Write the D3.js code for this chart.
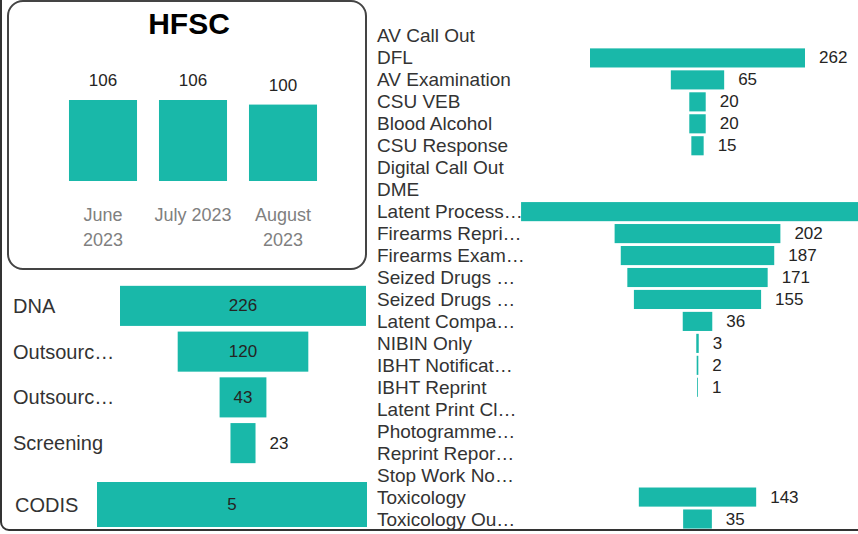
<!DOCTYPE html>
<html>
<head>
<meta charset="utf-8">
<script src="https://cdn.jsdelivr.net/npm/d3@7"></script>
<style>
  body { margin: 0; background: #fff; }
  svg { display: block; font-family: 'Liberation Sans', Arial, sans-serif; }
</style>
</head>
<body>
<svg id="chart" width="858" height="534"></svg>
<script>
const months = ['June 2023', 'July 2023', 'August 2023']
const monthLines = [['June', '2023'], ['July 2023'], ['August', '2023']]
const monthValues = [106, 106, 100]

const dnaLabels = ['DNA', 'Outsourc…', 'Outsourc…', 'Screening']
const dnaValues = [226, 120, 43, 23]

const codisLabels = ['CODIS']
const codisValues = [5]

const labLabels = [
  'AV Call Out', 'DFL', 'AV Examination', 'CSU VEB', 'Blood Alcohol', 'CSU Response',
  'Digital Call Out', 'DME', 'Latent Process…', 'Firearms Repri…', 'Firearms Exam…',
  'Seized Drugs …', 'Seized Drugs …', 'Latent Compa…', 'NIBIN Only', 'IBHT Notificat…',
  'IBHT Reprint', 'Latent Print Cl…', 'Photogramme…', 'Reprint Repor…', 'Stop Work No…',
  'Toxicology', 'Toxicology Ou…'
]
const labValues = [
  null, 262, 65, 20, 20, 15,
  null, null, 430, 202, 187,
  171, 155, 36, 3, 2,
  1, null, null, null, null,
  143, 35
]

const W = 858
const TEAL = '#19b8a9'
const LABEL = '#333'
const VALUE = '#252423'

const svg = d3.select('#chart')

// outer frame, mostly cropped off
svg.append('rect')
  .attr('x', 1).attr('y', -20)
  .attr('width', 900).attr('height', 550)
  .attr('rx', 8)
  .attr('fill', 'none')
  .attr('stroke', '#333')
  .attr('stroke-width', 2)

// HFSC card
svg.append('rect')
  .attr('x', 8).attr('y', 1)
  .attr('width', 358).attr('height', 268)
  .attr('rx', 15)
  .attr('fill', '#fff')
  .attr('stroke', '#444')
  .attr('stroke-width', 2)

svg.append('text')
  .attr('x', 189).attr('y', 34)
  .attr('text-anchor', 'middle')
  .attr('font-weight', 'bold')
  .attr('font-size', 30)
  .attr('fill', '#000')
  .text('HFSC')

const mx = d3.scaleBand().domain(months).range([58, 328]).paddingInner(0.244).paddingOuter(0.122)
const my = d3.scaleLinear().domain([0, 106]).range([181, 100])

const month = svg.append('g').selectAll('g').data(months).enter().append('g')

month.append('rect')
  .attr('x', d => mx(d))
  .attr('y', (d, i) => my(monthValues[i]))
  .attr('width', mx.bandwidth())
  .attr('height', (d, i) => my(0) - my(monthValues[i]))
  .attr('fill', TEAL)

month.append('text')
  .attr('x', d => mx(d) + mx.bandwidth() / 2)
  .attr('y', (d, i) => my(monthValues[i]) - 14)
  .attr('text-anchor', 'middle')
  .attr('font-size', 17)
  .attr('fill', VALUE)
  .text((d, i) => monthValues[i])

month.append('text')
  .attr('x', d => mx(d) + mx.bandwidth() / 2)
  .attr('y', 221)
  .attr('text-anchor', 'middle')
  .attr('font-size', 18)
  .attr('fill', '#808080')
  .selectAll('tspan').data((d, i) => monthLines[i]).enter().append('tspan')
  .attr('x', function () { return this.parentNode.getAttribute('x') })
  .attr('dy', (d, j) => j ? 25 : 0)
  .text(d => d)

// funnel helper: bars centred on cx, rows from a band scale
function funnel({ labels, values, x0, cx, unit, y0, y1, pad, labelSize, valueSize, inside }) {
  const keys = labels.map((_, i) => i)
  const y = d3.scaleBand().domain(keys).range([y0, y1]).paddingInner(pad).paddingOuter(pad / 2)
  const w = d3.scaleLinear().domain([0, 1]).range([0, unit])
  const g = svg.append('g')

  g.selectAll('text.cat').data(keys).enter().append('text')
    .attr('class', 'cat')
    .attr('x', x0)
    .attr('y', d => y(d) + y.bandwidth() / 2)
    .attr('dominant-baseline', 'central')
    .attr('font-size', labelSize)
    .attr('fill', LABEL)
    .text(d => labels[d])

  const rows = keys.filter(k => values[k] != null)

  g.selectAll('rect').data(rows).enter().append('rect')
    .attr('x', d => cx - w(values[d]) / 2)
    .attr('y', d => y(d))
    .attr('width', d => w(values[d]))
    .attr('height', y.bandwidth())
    .attr('fill', TEAL)

  // labels that would land past the canvas edge are not shown in the source
  const shown = rows.filter(d => inside || cx + w(values[d]) / 2 + 14 < W)

  g.selectAll('text.val').data(shown).enter().append('text')
    .attr('class', 'val')
    .attr('y', d => y(d) + y.bandwidth() / 2)
    .attr('dominant-baseline', 'central')
    .attr('font-size', valueSize)
    .attr('fill', VALUE)
    .each(function (d) {
      const t = d3.select(this).text(values[d])
      const bw = w(values[d])
      if (inside && bw > this.getComputedTextLength() + 12) {
        t.attr('x', cx).attr('text-anchor', 'middle')
      } else {
        t.attr('x', cx + bw / 2 + 14).attr('text-anchor', 'start')
      }
    })
}

funnel({
  labels: dnaLabels, values: dnaValues,
  x0: 13, cx: 243, unit: 246 / 226,
  y0: 283, y1: 466, pad: 0.124,
  labelSize: 20, valueSize: 17, inside: true
})

funnel({
  labels: codisLabels, values: codisValues,
  x0: 15, cx: 232, unit: 270 / 5,
  y0: 482, y1: 527, pad: 0,
  labelSize: 20, valueSize: 17, inside: true
})

funnel({
  labels: labLabels, values: labValues,
  x0: 377, cx: 697.5, unit: 215 / 262,
  y0: 25, y1: 530, pad: 0.13,
  labelSize: 19, valueSize: 17, inside: false
})
</script>
</body>
</html>
